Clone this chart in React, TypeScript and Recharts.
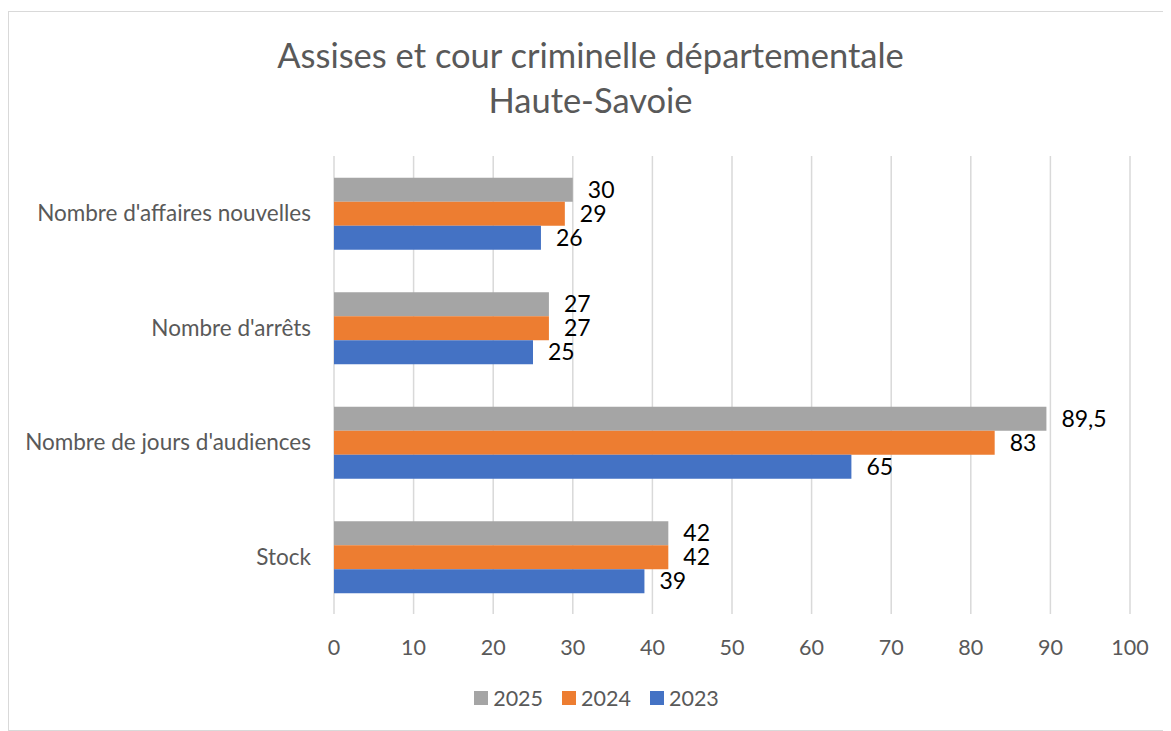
import { BarChart, Bar, XAxis, YAxis, CartesianGrid, Legend, LabelList } from "recharts";

const categories = [
  "Nombre d'affaires nouvelles",
  "Nombre d'arrêts",
  "Nombre de jours d'audiences",
  "Stock",
];
const years = ["2025", "2024", "2023"];
const values2025 = [30, 27, 89.5, 42];
const values2024 = [29, 27, 83, 42];
const values2023 = [26, 25, 65, 39];
const xTicks = [0, 10, 20, 30, 40, 50, 60, 70, 80, 90, 100];

const GRAY = "#A5A5A5";
const ORANGE = "#ED7D31";
const BLUE = "#4472C4";
const colors = [GRAY, ORANGE, BLUE];
const TEXT = "#595959";
const FONT = "Lato, 'Open Sans', sans-serif";

const data = categories.map((name, i) => ({
  name,
  y2025: values2025[i],
  y2024: values2024[i],
  y2023: values2023[i],
}));

const fmt = (v: unknown) => String(v).replace(".", ",");

function LegendContent() {
  return (
    <div style={{ display: "flex", justifyContent: "center", gap: 19, fontFamily: FONT, fontSize: 21.5, color: TEXT, paddingLeft: 54, marginTop: -2 }}>
      {years.map((y, i) => (
        <div key={y} style={{ display: "flex", alignItems: "center" }}>
          <span style={{ width: 14, height: 14, background: colors[i], marginRight: 5, display: "inline-block" }} />
          <span>{y}</span>
        </div>
      ))}
    </div>
  );
}

export default function App() {
  return (
    <div style={{ position: "relative", width: 1163, height: 718, marginTop: 3, border: "1px solid #d9d9d9", background: "#fff" }}>
      <div style={{ position: "absolute", left: 0, right: 0, top: 20, textAlign: "center", fontFamily: FONT, fontSize: 34.5, color: TEXT, lineHeight: "45px" }}>
        <div>Assises et cour criminelle départementale</div>
        <div>Haute-Savoie</div>
      </div>
      <BarChart
        width={1160}
        height={715}
        data={data}
        layout="vertical"
        margin={{ top: 144, right: 39, bottom: 0, left: 0 }}
        barCategoryGap="19%"
        barGap={0}
      >
        <CartesianGrid horizontal={false} stroke="#d9d9d9" strokeWidth={1.5} />
        <XAxis
          type="number"
          domain={[0, 100]}
          ticks={xTicks}
          axisLine={false}
          tickLine={false}
          tickSize={0}
          tickMargin={26}
          height={73}
          tick={{ fill: TEXT, fontSize: 21.5, fontFamily: FONT }}
          interval={0}
        />
        <YAxis
          type="category"
          dataKey="name"
          width={325}
          axisLine={false}
          tickLine={false}
          tickSize={0}
          tickMargin={23}
          tick={{ fill: TEXT, fontSize: 22.5, fontFamily: FONT }}
          interval={0}
        />
        <Legend verticalAlign="bottom" height={40} content={<LegendContent />} />
        <Bar dataKey="y2025" name="2025" fill={GRAY} isAnimationActive={false}>
          <LabelList dataKey="y2025" position="right" offset={15} formatter={fmt} fill="#000" fontSize={23} fontFamily={FONT} />
        </Bar>
        <Bar dataKey="y2024" name="2024" fill={ORANGE} isAnimationActive={false}>
          <LabelList dataKey="y2024" position="right" offset={15} formatter={fmt} fill="#000" fontSize={23} fontFamily={FONT} />
        </Bar>
        <Bar dataKey="y2023" name="2023" fill={BLUE} isAnimationActive={false}>
          <LabelList dataKey="y2023" position="right" offset={15} formatter={fmt} fill="#000" fontSize={23} fontFamily={FONT} />
        </Bar>
      </BarChart>
    </div>
  );
}
